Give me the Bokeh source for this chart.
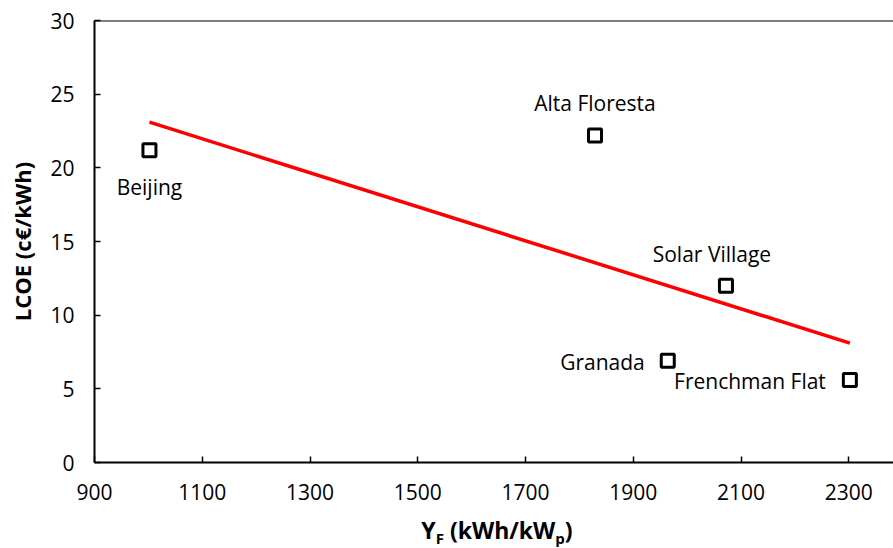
from bokeh.plotting import figure
from bokeh.models import Range1d, Span, Label, ColumnDataSource, FixedTicker, Div
from bokeh.layouts import column
from bokeh.embed import file_html
from bokeh.resources import INLINE

# Final yield vs. levelised cost of electricity for five sites
sites = ["Beijing", "Alta Floresta", "Solar Village", "Granada", "Frenchman Flat"]
yield_kwh_kwp = [1002, 1829, 2072, 1964, 2302]
lcoe_ct_kwh = [21.2, 22.2, 12.0, 6.9, 5.6]

# Linear trend line end points
trend_x = [1002, 2302]
trend_y = [23.1, 8.1]

x_ticks = [900, 1100, 1300, 1500, 1700, 1900, 2100, 2300]
y_ticks = [0, 5, 10, 15, 20, 25, 30]

FONT = "Open Sans"
W = 893
PLOT_H, TITLE_H = 512, 36
LEFT, TOP, BOTTOM = 94, 20, 50

p = figure(width=W, height=PLOT_H, output_backend="svg", toolbar_location=None,
           x_range=Range1d(900, 2383), y_range=Range1d(0, 30),
           min_border_left=LEFT, min_border_right=0,
           min_border_top=TOP, min_border_bottom=BOTTOM)
p.background_fill_color = "white"
p.border_fill_color = "white"
p.outline_line_color = None
p.grid.visible = False

for ax, ticks in ((p.xaxis, x_ticks), (p.yaxis, y_ticks)):
    ax.ticker = FixedTicker(ticks=ticks)
    ax.axis_line_color = "black"
    ax.axis_line_width = 2
    ax.major_tick_line_color = "black"
    ax.major_tick_line_width = 1.5
    ax.major_tick_in = 6
    ax.major_tick_out = 0
    ax.minor_tick_line_color = None
    ax.major_label_text_font = FONT
    ax.major_label_text_font_size = "21px"
    ax.major_label_text_color = "black"
p.xaxis.major_label_standoff = 21
p.yaxis.major_label_standoff = 20

p.yaxis.axis_label = "LCOE (c€/kWh)"
p.yaxis.axis_label_text_font = FONT
p.yaxis.axis_label_text_font_size = "22px"
p.yaxis.axis_label_text_font_style = "bold"
p.yaxis.axis_label_text_color = "black"
p.yaxis.axis_label_standoff = 10

# top border of the plot area
p.add_layout(Span(location=30, dimension="width", line_color="black", line_width=2))

p.line(trend_x, trend_y, line_color="red", line_width=3.5)

src = ColumnDataSource(dict(x=yield_kwh_kwp, y=lcoe_ct_kwh, name=sites))
p.scatter("x", "y", source=src, marker="square", size=13,
          fill_color="white", line_color="black", line_width=3)

# per-site label placement (pixel offsets and alignment)
placement = {
    "Beijing": (0, 37, "center"),
    "Alta Floresta": (0, -32, "center"),
    "Solar Village": (-14, -32, "center"),
    "Granada": (-23, 1, "right"),
    "Frenchman Flat": (-24, 1, "right"),
}
for name, xv, yv in zip(sites, yield_kwh_kwp, lcoe_ct_kwh):
    dx, dy, align = placement[name]
    p.add_layout(Label(x=xv, y=yv, x_offset=dx, y_offset=-dy, text=name,
                       text_font=FONT, text_font_size="21px", text_color="black",
                       text_align=align, text_baseline="middle"))

# x-axis title with subscripts, set as HTML below the plot
sub = "font-size:15px;vertical-align:-5px;line-height:0"
x_title = Div(
    text=(f'<div style="width:792px;margin-left:101px;text-align:center;'
          f'font-family:\'{FONT}\';font-weight:bold;font-size:23px;'
          f'line-height:{TITLE_H}px;color:black;">'
          f'Y<span style="{sub}">F</span> (kWh/kW<span style="{sub}">p</span>)</div>'),
    width=W, height=TITLE_H, margin=(0, 0, 0, 0))

page = column(p, x_title, spacing=0, margin=(0, 0, 0, 0))

open("out.html", "w").write(file_html(page, INLINE))
